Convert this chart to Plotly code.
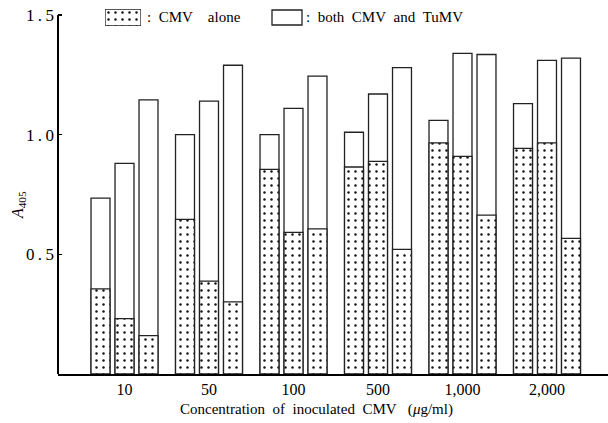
import plotly.graph_objects as go

# ---- data (A405) ----
concentrations = ["10", "50", "100", "500", "1,000", "2,000"]
bar_ids = ["A", "B", "C"]

both_A = [0.735, 1.00, 1.00, 1.01, 1.06, 1.13]
both_B = [0.88, 1.14, 1.11, 1.17, 1.34, 1.31]
both_C = [1.145, 1.29, 1.245, 1.28, 1.335, 1.32]

cmv_A = [0.356, 0.646, 0.855, 0.865, 0.966, 0.943]
cmv_B = [0.231, 0.388, 0.592, 0.888, 0.909, 0.966]
cmv_C = [0.160, 0.301, 0.606, 0.521, 0.664, 0.567]

y_ticks = [0.5, 1.0, 1.5]
y_tick_text = ["0\u2009.\u20095", "1\u2009.\u20090", "1\u2009.\u20095"]

both_series = [both_A, both_B, both_C]
cmv_series = [cmv_A, cmv_B, cmv_C]

FONT = "Liberation Serif"
EDGE = "#222222"
dot_pattern = dict(shape=".", fgcolor="#111111", bgcolor="white",
                   size=7, solidity=0.1, fillmode="replace")

fig = go.Figure()

for bid, both_vals, cmv_vals in zip(bar_ids, both_series, cmv_series):
    fig.add_trace(go.Bar(
        x=concentrations, y=both_vals, offsetgroup=bid,
        marker=dict(color="white", line=dict(color=EDGE, width=1.3)),
        showlegend=False, hoverinfo="skip"))
    fig.add_trace(go.Bar(
        x=concentrations, y=cmv_vals, offsetgroup=bid,
        marker=dict(color="white", line=dict(color=EDGE, width=1.3),
                    pattern=dot_pattern),
        showlegend=False, hoverinfo="skip"))

# legend swatch (dotted) on its own tiny axes
fig.add_trace(go.Bar(
    x=[0], y=[1], width=[1], xaxis="x2", yaxis="y2",
    marker=dict(color="white", line=dict(color=EDGE, width=1.3),
                pattern=dot_pattern),
    showlegend=False, hoverinfo="skip"))

# A/B/C labels above the first group
slot_px = 24
for k, (bid, both_vals) in enumerate(zip(bar_ids, both_series)):
    fig.add_annotation(x=concentrations[0], y=both_vals[0], text=bid,
                       showarrow=False, xshift=(k - 1) * slot_px,
                       yanchor="bottom", yshift=2,
                       font=dict(family=FONT, size=16, color="black"))

L, R, T, B = 58, 0, 0, 49
W, H = 608, 423
pw, ph = W - L - R, H - T - B


def px_x(p):
    return (p - L) / pw


def px_y(p):
    return (H - B - p) / ph


# y-axis line (from 0 up to the 1.5 tick)
fig.add_shape(type="line", xref="paper", yref="paper",
              x0=px_x(58), x1=px_x(58), y0=0, y1=px_y(15),
              line=dict(color="black", width=2), layer="above")

# empty legend box
fig.add_shape(type="rect", xref="paper", yref="paper",
              x0=px_x(272), x1=px_x(302), y0=px_y(25), y1=px_y(10),
              line=dict(color=EDGE, width=1.3), fillcolor="white")

fig.add_annotation(xref="paper", yref="paper", x=px_x(145), y=px_y(17.5),
                   text=":\u2002CMV\u2003alone", showarrow=False,
                   xanchor="left", yanchor="middle",
                   font=dict(family=FONT, size=15, color="black"))
fig.add_annotation(xref="paper", yref="paper", x=px_x(304), y=px_y(17.5),
                   text=":\u2002both\u2002CMV\u2002and\u2002TuMV", showarrow=False,
                   xanchor="left", yanchor="middle",
                   font=dict(family=FONT, size=15, color="black"))

# axis titles
fig.add_annotation(xref="paper", yref="paper", x=px_x(18), y=px_y(205),
                   text="<i>A</i><sub>405</sub>", showarrow=False,
                   textangle=-90, xanchor="center", yanchor="middle",
                   font=dict(family=FONT, size=16, color="#000000"))
fig.add_annotation(xref="paper", yref="paper", x=px_x(316), y=px_y(409),
                   text="Concentration\u2002of\u2002inoculated\u2002CMV\u2002 (<i>\u03bc</i>g/ml)",
                   showarrow=False, xanchor="center", yanchor="middle",
                   font=dict(family=FONT, size=15, color="black"))

group_px = 84.5
x0_px = 124.5

fig.update_layout(
    width=W, height=H,
    margin=dict(l=L, r=R, t=T, b=B, pad=0),
    paper_bgcolor="white", plot_bgcolor="white",
    barmode="group", bargap=0.148, bargroupgap=0.21,
    xaxis=dict(type="category",
               range=[(L - x0_px) / group_px, (W - R - x0_px) / group_px],
               showline=True, linecolor="black", linewidth=2,
               ticks="", showgrid=False, zeroline=False,
               tickfont=dict(family=FONT, size=16, color="black")),
    yaxis=dict(range=[0, 1.5 * (H - B - T) / (H - B - 15)],
               tickvals=y_ticks, ticktext=y_tick_text,
               ticks="inside", ticklen=4, tickwidth=1.5, tickcolor="black",
               showline=False, showgrid=False, zeroline=False,
               ticklabelstandoff=3,
               tickfont=dict(family=FONT, size=17, color="black")),
    xaxis2=dict(domain=[px_x(105), px_x(141)], range=[-0.5, 0.5],
                visible=False, anchor="y2", fixedrange=True),
    yaxis2=dict(domain=[px_y(26), px_y(9)], range=[0, 1],
                visible=False, anchor="x2", fixedrange=True),
    showlegend=False,
)

fig.write_html("out.html",
               config={"displayModeBar": False, "staticPlot": True},
               post_script="document.body.style.margin='0';document.body.style.overflow='hidden';")
